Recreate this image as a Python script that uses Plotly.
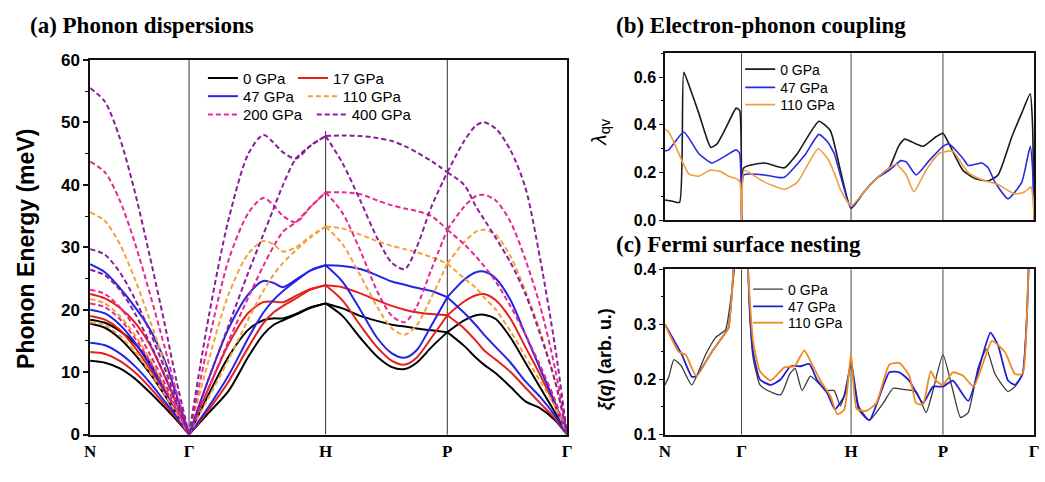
import plotly.graph_objects as go

W, H = 1045, 482

# ---------------- shared path / labels ----------------
kpath_a = [0.0, 1.0, 2.38, 3.61, 4.82]
kpath_bc = [0.0, 1.0, 2.43, 3.63, 4.82]
klabels = ["N", "Γ", "H", "P", "Γ"]

pressures = ["0 GPa", "17 GPa", "47 GPa", "110 GPa", "200 GPa", "400 GPa"]
colors_a = ["#000000", "#e3201e", "#2424e6", "#f2a23a", "#e8278c", "#8b1d9c"]
dashes_a = ["solid", "solid", "solid", "5px,3px", "5px,3px", "5px,3px"]

# ---------------- panel (a): phonon dispersions (meV) ----------------
q_NG = [0.0, 0.15, 0.30, 0.45, 0.60, 0.75, 0.87, 1.0]
q_GH = [1.0, 1.2, 1.4, 1.6, 1.75, 1.85, 1.95, 2.08, 2.23, 2.38]
q_HP = [2.38, 2.55, 2.73, 2.90, 3.05, 3.18, 3.30, 3.45, 3.61]
q_PG = [3.61, 3.78, 3.90, 3.98, 4.10, 4.25, 4.40, 4.55, 4.70, 4.82]

w0_NG = [[11.8, 11.5, 10.6, 9.0, 6.8, 4.4, 2.4, 0],
         [17.8, 17.1, 15.4, 12.9, 9.9, 6.4, 3.4, 0],
         [18.4, 17.9, 16.6, 14.6, 11.6, 7.4, 3.8, 0]]
w0_GH = [[0, 6.5, 12.5, 16.8, 18.3, 18.6, 18.6, 19.3, 20.4, 21.0],
         [0, 3.5, 7.0, 12.5, 16.0, 17.5, 18.3, 19.2, 20.3, 21.0]]
w0_HP = [[21.0, 20.2, 19.0, 18.2, 17.6, 17.3, 17.0, 16.7, 16.4],
         [21.0, 19.0, 15.5, 12.5, 10.8, 10.5, 11.5, 14.0, 16.4]]
w0_PG = [[16.4, 18.3, 19.1, 19.2, 18.5, 15.5, 11.5, 7.5, 3.5, 0],
         [16.4, 14.2, 12.3, 11.2, 9.8, 7.6, 5.3, 4.2, 2.3, 0]]

w17_NG = [[13.2, 12.9, 11.8, 10.0, 7.6, 4.9, 2.7, 0],
          [19.0, 18.4, 16.8, 14.0, 10.6, 6.8, 3.7, 0],
          [22.5, 21.8, 20.3, 18.0, 14.5, 9.5, 5.0, 0]]
w17_GH = [[0, 7.5, 14.5, 19.5, 21.2, 21.3, 21.2, 22.2, 23.3, 23.9],
          [0, 4.0, 8.5, 14.0, 17.8, 19.5, 20.6, 21.8, 23.2, 23.9]]
w17_HP = [[23.9, 23.6, 22.6, 21.5, 20.6, 20.0, 19.6, 19.3, 19.1],
          [23.9, 21.5, 17.5, 14.0, 11.8, 11.2, 12.3, 15.5, 19.1]]
w17_PG = [[19.1, 21.3, 22.3, 22.5, 21.5, 18.5, 14.0, 9.5, 4.5, 0],
          [19.1, 17.0, 15.0, 13.5, 12.0, 10.0, 7.5, 5.0, 2.5, 0]]

w47_NG = [[14.7, 14.3, 13.0, 11.0, 8.4, 5.4, 3.0, 0],
          [20.0, 19.4, 17.6, 14.8, 11.2, 7.2, 3.9, 0],
          [27.3, 26.0, 23.5, 20.5, 17.0, 12.0, 6.5, 0]]
w47_GH = [[0, 9.0, 17.0, 22.5, 24.6, 24.3, 23.6, 24.8, 26.3, 27.1],
          [0, 4.5, 9.5, 15.5, 19.5, 21.5, 23.0, 24.6, 26.3, 27.1]]
w47_HP = [[27.1, 27.0, 26.5, 25.5, 24.5, 24.0, 23.5, 23.0, 22.0],
          [27.1, 24.5, 20.0, 15.5, 13.0, 12.3, 13.5, 17.5, 22.0]]
w47_PG = [[22.0, 24.8, 26.0, 26.1, 25.0, 21.5, 16.0, 10.5, 5.0, 0],
          [22.0, 19.5, 17.5, 16.0, 14.0, 11.5, 8.5, 6.0, 3.0, 0]]

w110_NG = [[18.0, 17.5, 15.8, 13.3, 10.1, 6.5, 3.5, 0],
           [21.7, 21.0, 19.0, 16.0, 12.2, 7.8, 4.2, 0],
           [35.6, 34.2, 30.5, 25.0, 18.5, 11.5, 5.5, 0]]
w110_GH = [[0, 12.0, 22.5, 29.0, 31.0, 30.5, 29.3, 30.0, 31.8, 33.3],
           [0, 6.0, 12.0, 18.5, 23.0, 25.5, 27.5, 29.5, 31.6, 33.3]]
w110_HP = [[33.3, 33.0, 32.0, 31.0, 30.2, 29.7, 29.2, 28.4, 27.4],
           [33.3, 30.5, 25.5, 20.5, 17.0, 16.0, 17.5, 22.0, 27.4]]
w110_PG = [[27.4, 30.8, 32.5, 32.8, 32.0, 28.5, 23.0, 16.5, 8.5, 0],
           [27.4, 25.0, 23.5, 22.0, 20.0, 16.5, 12.5, 8.5, 4.5, 0]]

w200_NG = [[21.0, 20.4, 18.5, 15.5, 11.8, 7.6, 4.1, 0],
           [23.2, 22.5, 20.4, 17.2, 13.0, 8.4, 4.5, 0],
           [43.7, 42.0, 37.5, 30.8, 22.8, 14.2, 7.0, 0]]
w200_GH = [[0, 15.0, 28.0, 35.5, 37.9, 36.8, 35.0, 34.0, 36.5, 38.8],
           [0, 7.5, 15.0, 22.0, 27.0, 30.0, 32.5, 34.0, 36.5, 38.8]]
w200_HP = [[38.8, 38.8, 38.5, 37.5, 36.7, 36.2, 35.8, 35.0, 32.8],
           [38.8, 35.5, 29.5, 23.0, 19.0, 18.0, 20.5, 26.5, 32.8]]
w200_PG = [[32.8, 36.5, 38.2, 38.4, 37.5, 34.0, 28.0, 20.5, 10.5, 0],
           [32.8, 30.5, 28.5, 27.0, 24.5, 20.5, 16.0, 11.0, 5.5, 0]]

w400_NG = [[26.4, 25.5, 23.2, 19.5, 14.8, 9.6, 5.2, 0],
           [29.7, 28.8, 26.0, 21.8, 16.6, 10.7, 5.8, 0],
           [55.5, 53.3, 47.5, 39.0, 28.8, 18.0, 8.8, 0]]
w400_GH = [[0, 19.0, 34.5, 45.0, 48.0, 46.8, 45.2, 44.2, 46.3, 47.8],
           [0, 9.0, 17.5, 26.0, 32.0, 36.0, 40.0, 44.2, 46.3, 47.8]]
w400_HP = [[47.8, 47.9, 47.8, 47.5, 47.0, 46.2, 45.2, 43.8, 42.0],
           [47.8, 43.5, 37.5, 31.5, 27.5, 26.5, 30.0, 36.5, 42.0]]
w400_PG = [[42.0, 47.0, 49.5, 50.0, 49.0, 45.5, 39.5, 28.0, 14.0, 0],
           [42.0, 40.0, 36.5, 34.5, 31.5, 27.5, 22.5, 16.0, 8.5, 0]]

bands_a = [
    (w0_NG, w0_GH, w0_HP, w0_PG),
    (w17_NG, w17_GH, w17_HP, w17_PG),
    (w47_NG, w47_GH, w47_HP, w47_PG),
    (w110_NG, w110_GH, w110_HP, w110_PG),
    (w200_NG, w200_GH, w200_HP, w200_PG),
    (w400_NG, w400_GH, w400_HP, w400_PG),
]
H_line_top = 48.6  # where the H marker line stops (below legend)

# ---------------- panel (b): lambda_qv ----------------
pressures_bc = ["0 GPa", "47 GPa", "110 GPa"]
colors_b = ["#1a1a1a", "#2a2ae0", "#f0a040"]
colors_c = ["#3a3a3a", "#2020d0", "#f08a20"]

lam_x_0 = [0, 0.10, 0.19, 0.245, 0.33, 0.44, 0.55, 0.60, 0.68, 0.80,
           0.93, 0.975, 1.0, 1.03, 1.30, 1.56, 1.73, 2.01, 2.16, 2.29,
           2.43, 2.60, 2.76, 2.93, 3.05, 3.13, 3.28, 3.37, 3.54, 3.63,
           3.71, 3.89, 4.05, 4.22, 4.35, 4.53, 4.66, 4.77, 4.80, 4.82]
lam_0 = [0.085, 0.08, 0.075, 0.62, 0.55, 0.45, 0.34, 0.305, 0.32, 0.39,
         0.47, 0.46, 0.0, 0.22, 0.24, 0.22, 0.28, 0.415, 0.375, 0.21,
         0.05, 0.12, 0.175, 0.22, 0.31, 0.34, 0.32, 0.31, 0.35, 0.365,
         0.32, 0.21, 0.175, 0.165, 0.19, 0.35, 0.45, 0.53, 0.40, 0.0]

lam_x_47 = [0, 0.05, 0.245, 0.44, 0.61, 0.79, 0.93, 0.975, 1.0, 1.03,
            1.30, 1.47, 1.56, 1.82, 2.01, 2.12, 2.21, 2.29, 2.43, 2.60,
            2.76, 2.93, 3.08, 3.15, 3.28, 3.45, 3.63, 3.71, 3.89, 3.96,
            4.14, 4.22, 4.31, 4.48, 4.66, 4.77, 4.80, 4.82]
lam_47 = [0.29, 0.295, 0.37, 0.28, 0.24, 0.27, 0.295, 0.28, 0.0, 0.19,
          0.19, 0.18, 0.18, 0.27, 0.36, 0.33, 0.28, 0.19, 0.05, 0.12,
          0.175, 0.21, 0.25, 0.245, 0.19, 0.25, 0.31, 0.32, 0.26, 0.23,
          0.24, 0.22, 0.16, 0.09, 0.16, 0.31, 0.22, 0.0]

lam_x_110 = [0, 0.05, 0.18, 0.31, 0.44, 0.59, 0.72, 0.83, 0.955, 0.98,
             1.0, 1.03, 1.10, 1.30, 1.56, 1.73, 2.00, 2.12, 2.21, 2.29,
             2.43, 2.60, 2.76, 2.93, 3.02, 3.15, 3.25, 3.41, 3.58, 3.70,
             3.76, 3.96, 4.14, 4.35, 4.57, 4.70, 4.78, 4.81, 4.82]
lam_110 = [0.382, 0.37, 0.28, 0.195, 0.185, 0.21, 0.205, 0.185, 0.17, 0.16,
           0.0, 0.21, 0.20, 0.16, 0.13, 0.16, 0.30, 0.26, 0.20, 0.13,
           0.06, 0.12, 0.175, 0.22, 0.235, 0.19, 0.12, 0.21, 0.28, 0.29,
           0.29, 0.20, 0.17, 0.15, 0.11, 0.12, 0.14, 0.08, 0.0]

# ---------------- panel (c): nesting function xi(q) ----------------
xi_x_0 = [0, 0.05, 0.116, 0.21, 0.35, 0.53, 0.66, 0.79, 0.85, 0.917,
          0.97, 1.03, 1.085, 1.11, 1.15, 1.24, 1.34, 1.51, 1.63, 1.70,
          1.79, 1.90, 2.03, 2.12, 2.21, 2.29, 2.38, 2.43, 2.53, 2.67,
          2.85, 2.98, 3.11, 3.28, 3.41, 3.50, 3.63, 3.76, 3.86, 3.96,
          4.09, 4.20, 4.31, 4.48, 4.57, 4.67, 4.73, 4.77, 4.82]
xi_0 = [0.19, 0.205, 0.236, 0.225, 0.19, 0.245, 0.276, 0.29, 0.337, 0.42,
        0.7, 0.7, 0.40, 0.31, 0.24, 0.19, 0.18, 0.172, 0.21, 0.22,
        0.18, 0.206, 0.19, 0.18, 0.18, 0.152, 0.19, 0.236, 0.152, 0.126,
        0.157, 0.184, 0.182, 0.178, 0.14, 0.18, 0.245, 0.18, 0.131, 0.14,
        0.222, 0.255, 0.21, 0.178, 0.187, 0.21, 0.327, 0.5, 0.8]

xi_x_47 = [0, 0.22, 0.35, 0.41, 0.61, 0.79, 0.83, 0.87, 0.895, 0.93,
           0.97, 1.03, 1.085, 1.11, 1.15, 1.24, 1.38, 1.51, 1.64, 1.77,
           1.885, 1.99, 2.12, 2.22, 2.34, 2.43, 2.53, 2.67, 2.93, 3.06,
           3.19, 3.37, 3.50, 3.63, 3.76, 3.96, 4.14, 4.25, 4.35, 4.48,
           4.57, 4.67, 4.73, 4.77, 4.82]
xi_47 = [0.30, 0.245, 0.205, 0.206, 0.25, 0.285, 0.294, 0.35, 0.40, 0.5,
         0.7, 0.7, 0.40, 0.32, 0.25, 0.20, 0.19, 0.20, 0.224, 0.224,
         0.228, 0.198, 0.175, 0.146, 0.17, 0.228, 0.146, 0.126, 0.213, 0.213,
         0.198, 0.157, 0.187, 0.187, 0.198, 0.161, 0.24, 0.285, 0.262, 0.198,
         0.19, 0.21, 0.327, 0.5, 0.8]

xi_x_110 = [0, 0.18, 0.27, 0.41, 0.61, 0.79, 0.83, 0.87, 0.895, 0.93,
            0.97, 1.03, 1.085, 1.11, 1.15, 1.24, 1.38, 1.56, 1.69, 1.82,
            1.90, 2.03, 2.16, 2.25, 2.34, 2.43, 2.505, 2.63, 2.76, 2.93,
            3.06, 3.19, 3.28, 3.37, 3.47, 3.54, 3.63, 3.76, 3.89, 4.03,
            4.18, 4.27, 4.44, 4.57, 4.67, 4.73, 4.77, 4.82]
xi_110 = [0.30, 0.25, 0.245, 0.206, 0.25, 0.285, 0.294, 0.35, 0.40, 0.5,
          0.7, 0.7, 0.40, 0.34, 0.27, 0.215, 0.198, 0.222, 0.224, 0.253,
          0.233, 0.198, 0.17, 0.137, 0.145, 0.245, 0.146, 0.143, 0.157, 0.227,
          0.23, 0.207, 0.157, 0.155, 0.215, 0.198, 0.19, 0.213, 0.207, 0.187,
          0.24, 0.27, 0.25, 0.21, 0.21, 0.327, 0.5, 0.8]

lam_series = [(lam_x_0, lam_0), (lam_x_47, lam_47), (lam_x_110, lam_110)]
xi_series = [(xi_x_0, xi_0), (xi_x_47, xi_47), (xi_x_110, xi_110)]

# ---------------- figure ----------------
SANS = "Liberation Sans, Arial, sans-serif"
SERIF = "Liberation Serif, Times New Roman, serif"

fig = go.Figure()

# legend placement (pixels): (line start x, row centre y)
leg_a_pos = [(207, 72), (298, 72), (207, 91), (308, 91), (207, 110), (317, 110)]
leg_b_pos = [(750, 63), (750, 82), (750, 100)]
leg_c_pos = [(758, 292), (758, 310), (758, 327)]

legend_layouts = {}
leg_idx = 0


def next_legend(px, py, size):
    global leg_idx
    leg_idx += 1
    key = "legend" if leg_idx == 1 else f"legend{leg_idx}"
    legend_layouts[key] = dict(
        x=(px - 8) / W, y=1 - py / H, xanchor="left", yanchor="middle",
        orientation="v", bgcolor="rgba(0,0,0,0)", borderwidth=0,
        font=dict(family=SANS, size=size, color="#000"),
        itemwidth=30, tracegroupgap=0,
    )
    return key


for i, (name, col, dash) in enumerate(zip(pressures, colors_a, dashes_a)):
    segs = bands_a[i]
    leg_key = next_legend(*leg_a_pos[i], 15)
    first = True
    for qs, branches in zip((q_NG, q_GH, q_HP, q_PG), segs):
        for br in branches:
            fig.add_trace(go.Scatter(
                x=qs, y=br, mode="lines", name=name,
                line=dict(color=col, width=2, dash=dash, shape="spline", smoothing=0.8),
                xaxis="x", yaxis="y", hoverinfo="skip",
                showlegend=first, legend=leg_key,
            ))
            first = False

for i, (name, (xs, ys)) in enumerate(zip(pressures_bc, lam_series)):
    leg_key = next_legend(*leg_b_pos[i], 14)
    fig.add_trace(go.Scatter(
        x=xs, y=ys, mode="lines", name=name,
        line=dict(color=colors_b[i], width=1.6, shape="spline", smoothing=0.5),
        xaxis="x2", yaxis="y2", hoverinfo="skip", legend=leg_key,
    ))

for i, (name, (xs, ys)) in enumerate(zip(pressures_bc, xi_series)):
    leg_key = next_legend(*leg_c_pos[i], 14)
    fig.add_trace(go.Scatter(
        x=xs, y=ys, mode="lines", name=name,
        line=dict(color=colors_c[i], width=1.3 if i == 0 else 1.8, shape="spline", smoothing=0.5),
        xaxis="x3", yaxis="y3", hoverinfo="skip", legend=leg_key,
    ))

# ---------------- axes ----------------
xa_dom = [85 / W, 567 / W]
xbc_dom = [666 / W, 1039 / W]
ya_dom = [(H - 443) / H, (H - 53) / H]
yb_dom = [(H - 220) / H, (H - 46) / H]
yc_dom = [(H - 443) / H, (H - 271) / H]

frame = dict(showline=True, linecolor="#111", linewidth=1.5, mirror=True,
             showgrid=False, zeroline=False)

xtickfont = dict(family=SERIF, size=17, color="#000", weight="bold")
ytickfont = dict(family=SANS, size=17, color="#000", weight="bold")
ytickfont_s = dict(family=SANS, size=16, color="#000", weight="bold")

layout_axes = dict(
    xaxis=dict(domain=xa_dom, range=[0, kpath_a[-1]], tickvals=kpath_a, ticktext=klabels,
               ticks="", tickfont=xtickfont, anchor="y", ticklabeloverflow="allow", **frame),
    yaxis=dict(domain=ya_dom, range=[0, 60], tick0=0, dtick=10, ticks="outside",
               ticklen=5, tickwidth=1.5, tickcolor="#111", tickfont=ytickfont, anchor="x",
               minor=dict(dtick=5, ticks="outside", ticklen=3, tickwidth=1.2, tickcolor="#111"),
               **frame),
    xaxis2=dict(domain=xbc_dom, range=[0, kpath_bc[-1]], tickvals=kpath_bc,
                showticklabels=False, ticks="", anchor="y2", **frame),
    yaxis2=dict(domain=yb_dom, range=[0, 0.7], tickvals=[0, 0.2, 0.4, 0.6],
                ticktext=["0.0", "0.2", "0.4", "0.6"], ticks="outside", ticklen=4,
                tickwidth=1.3, tickcolor="#111", tickfont=ytickfont_s, anchor="x2",
                minor=dict(dtick=0.1, tick0=0, ticks="outside", ticklen=2, tickcolor="#111"),
                **frame),
    xaxis3=dict(domain=xbc_dom, range=[0, kpath_bc[-1]], tickvals=kpath_bc, ticktext=klabels,
                ticks="", tickfont=xtickfont, anchor="y3", ticklabeloverflow="allow", **frame),
    yaxis3=dict(domain=yc_dom, range=[0.1, 0.4], tickvals=[0.1, 0.2, 0.3, 0.4],
                ticktext=["0.1", "0.2", "0.3", "0.4"], ticks="outside", ticklen=4,
                tickwidth=1.3, tickcolor="#111", tickfont=ytickfont_s, anchor="x3",
                minor=dict(dtick=0.05, tick0=0.1, ticks="outside", ticklen=2, tickcolor="#111"),
                **frame),
    yaxis4=dict(overlaying="y", side="right", anchor="x", range=[0, 60], tick0=0, dtick=5,
                ticks="inside", ticklen=4, tickcolor="#111", showticklabels=False,
                showgrid=False, zeroline=False, showline=False),
    yaxis5=dict(overlaying="y2", side="right", anchor="x2", range=[0, 0.7], tick0=0, dtick=0.2,
                ticks="inside", ticklen=4, tickcolor="#111", showticklabels=False,
                showgrid=False, zeroline=False, showline=False),
    yaxis6=dict(overlaying="y3", side="right", anchor="x3", range=[0.1, 0.4], tick0=0.1, dtick=0.05,
                ticks="inside", ticklen=4, tickcolor="#111", showticklabels=False,
                showgrid=False, zeroline=False, showline=False),
)

# ---------------- high-symmetry marker lines ----------------
shapes = []
for k, xv in enumerate(kpath_a[1:-1]):
    if klabels[k + 1] == "H":
        shapes.append(dict(type="line", xref="x", yref="y", x0=xv, x1=xv, y0=0, y1=H_line_top,
                           line=dict(color="#333", width=1), layer="below"))
    else:
        shapes.append(dict(type="line", xref="x", yref="y domain", x0=xv, x1=xv, y0=0, y1=1,
                           line=dict(color="#333", width=1), layer="below"))
for xr, yr in (("x2", "y2 domain"), ("x3", "y3 domain")):
    for xv in kpath_bc[1:-1]:
        shapes.append(dict(type="line", xref=xr, yref=yr, x0=xv, x1=xv, y0=0, y1=1,
                           line=dict(color="#444", width=1), layer="below"))

# ---------------- titles ----------------
ttl = dict(family=SERIF, size=23, color="#000", weight="bold")
annotations = [
    dict(text="(a) Phonon dispersions", x=22 / W, y=1 - 17 / H, xref="paper", yref="paper",
         xanchor="left", yanchor="middle", showarrow=False, font=ttl),
    dict(text="(b) Electron-phonon coupling", x=614 / W, y=1 - 17 / H, xref="paper", yref="paper",
         xanchor="left", yanchor="middle", showarrow=False, font=ttl),
    dict(text="(c) Fermi surface nesting", x=614 / W, y=1 - 245 / H, xref="paper", yref="paper",
         xanchor="left", yanchor="middle", showarrow=False, font=ttl),
    dict(text="Phonon Energy (meV)", x=20 / W, y=1 - 250 / H, xref="paper", yref="paper",
         xanchor="center", yanchor="middle", textangle=-90, showarrow=False,
         font=dict(family=SANS, size=23, color="#000", weight="bold")),
    dict(text="<i>λ</i><sub>qv</sub>", x=600 / W, y=1 - 128 / H, xref="paper", yref="paper",
         xanchor="center", yanchor="middle", textangle=-90, showarrow=False,
         font=dict(family=SANS, size=21, color="#000")),
    dict(text="<i>ξ</i>(<i>q</i>) (arb. u.)", x=606 / W, y=1 - 365 / H, xref="paper", yref="paper",
         xanchor="center", yanchor="middle", textangle=-90, showarrow=False,
         font=dict(family=SANS, size=18, color="#000", weight="bold")),
]

fig.update_layout(
    width=W, height=H, margin=dict(l=0, r=0, t=0, b=0),
    paper_bgcolor="white", plot_bgcolor="white",
    shapes=shapes, annotations=annotations, showlegend=True,
    **layout_axes, **legend_layouts,
)

# remove the browser's default page margin so the figure sits at the window origin
fig.write_html("out.html", config={"displayModeBar": False},
               post_script="document.body.style.margin='0px';")
